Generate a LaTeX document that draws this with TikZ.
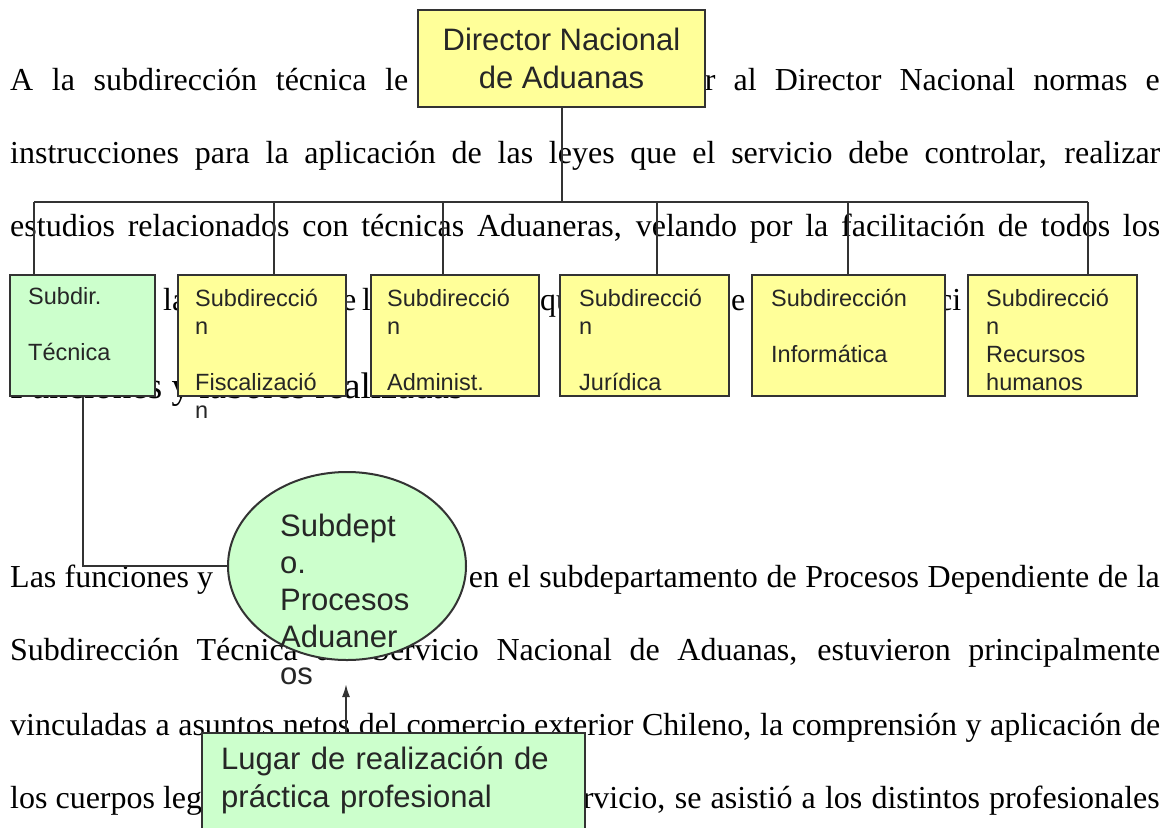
\documentclass[tikz,border=0pt]{standalone}
\usepackage{fontspec}
\setmainfont{Liberation Serif}
\newfontfamily\arialf{Liberation Sans}
\usepackage{tikz}
\usetikzlibrary{arrows.meta,positioning,shapes.geometric}

\definecolor{boxyellow}{HTML}{FFFF99}
\definecolor{boxgreen}{HTML}{CCFFCC}
\definecolor{edgegray}{HTML}{333333}

\begin{document}
\begin{tikzpicture}[x=1pt, y=-1pt,
  body/.style={anchor=base west, inner sep=0pt, font=\fontsize{32}{38}\selectfont},
  orgbox/.style={draw=edgegray, line width=2pt, fill=boxyellow, inner sep=0pt},
  boxtxt/.style={anchor=base west, inner sep=0pt, text width=200pt, align=left, text=black!85, font=\arialf\fontsize{23.5}{28}\selectfont},
  bigtxt/.style={anchor=base west, inner sep=0pt, text width=380pt, align=left, text=black!85, font=\arialf\fontsize{31}{37}\selectfont},
  conn/.style={draw=edgegray, line width=2pt}]

\useasboundingbox (0,0) rectangle (1174,827);
\fill[white] (0,0) rectangle (1174,827);
\clip (0,0) rectangle (1174,827);

% page text behind the chart
\node[body] (l1a) at (10,90) {\makebox[398pt][s]{A la subdirección técnica le}};
\node[body, anchor=base east] (l1b) at (1160,90) {\makebox[455pt][s]{r al Director Nacional normas e}};
\node[body] (l2) at (10,163) {\makebox[1150pt][s]{instrucciones para la aplicación de las leyes que el servicio debe controlar, realizar}};
\node[body] (l3) at (10,236) {\makebox[1150pt][s]{estudios relacionados con técnicas Aduaneras, velando por la facilitación de todos los}};
\foreach \t/\x in {la/163, e/342, l/362, qu/540, e/731, ci/938}
  \node[body] at (\x,310) {\t};
\node[body, font=\fontsize{37}{44}\selectfont] (head) at (10,398) {Funciones y labores realizadas};
\node[body] (l6a) at (10,587) {\makebox[203pt][s]{Las funciones y}};
\node[body, anchor=base east] (l6b) at (1160,587) {\makebox[691pt][s]{en el subdepartamento de Procesos Dependiente de la}};
\node[body] (l7) at (10,660) {\makebox[1150pt][s]{Subdirección Técnica del Servicio Nacional de Aduanas, estuvieron principalmente}};
\node[body] (l8) at (10,735) {\makebox[1150pt][s]{vinculadas a asuntos netos del comercio exterior Chileno, la comprensión y aplicación de}};
\node[body] (l9a) at (10,808) {\makebox[192pt][s]{los cuerpos leg}};
\node[body, anchor=base east] (l9b) at (1160,808) {\makebox[577pt][s]{rvicio, se asistió a los distintos profesionales}};

% chart boxes
\node[orgbox, minimum width=287pt, minimum height=97pt, align=center, text=black!85,
      font=\arialf\fontsize{31}{38}\selectfont] (dir) at (561.5,58.5) {Director Nacional\\de Aduanas};
\node[orgbox, fill=boxgreen, minimum width=145pt, minimum height=121pt] (tec) at (82.5,335.5) {};
\node[orgbox, minimum width=168pt, minimum height=121pt] (fis) at (262,335.5) {};
\node[orgbox, minimum width=168pt, minimum height=121pt] (adm) at (455,335.5) {};
\node[orgbox, minimum width=169pt, minimum height=121pt] (jur) at (644.5,335.5) {};
\node[orgbox, minimum width=193pt, minimum height=121pt] (inf) at (848.5,335.5) {};
\node[orgbox, minimum width=169pt, minimum height=121pt] (rrhh) at (1052.5,335.5) {};
\node[orgbox, fill=boxgreen, ellipse, minimum width=238pt, minimum height=188pt] (sub) at (347,566) {};
\node[orgbox, fill=boxgreen, minimum width=383pt, minimum height=150pt] (lugar) at (393.5,808) {};

% connectors
\coordinate (busL) at (34,202);
\coordinate (busR) at (1088,202);
\coordinate (tip) at (346,684);
\draw[conn] (dir.south) -- (dir.south |- busL);
\draw[conn] (busL) -- (busR);
\foreach \n/\x in {tec/34, fis/274, adm/443, jur/657, inf/848, rrhh/1088}
  \draw[conn] (\x,202) -- (\n.north -| \x,0);
\draw[conn] (tec.south) |- (sub.west);
\draw[conn, -{Latex[length=13pt,width=8pt]}] (lugar.north -| tip) -- (tip);

% box labels
\node[boxtxt] at ([shift={(19,30)}]tec.north west) {Subdir.\\[28pt]Técnica};
\node[boxtxt] at ([shift={(18,32)}]fis.north west) {Subdirecció\\n\\[28pt]Fiscalizació\\n};
\node[boxtxt] at ([shift={(17,32)}]adm.north west) {Subdirecció\\n\\[28pt]Administ.};
\node[boxtxt] at ([shift={(20,32)}]jur.north west) {Subdirecció\\n\\[28pt]Jurídica};
\node[boxtxt] at ([shift={(20,32)}]inf.north west) {Subdirección\\[28pt]Informática};
\node[boxtxt] at ([shift={(19,32)}]rrhh.north west) {Subdirecció\\n\\Recursos\\humanos};
\node[bigtxt] at (280,536) {Subdept\\o.\\Procesos\\Aduaner\\os};
\node[bigtxt, font=\arialf\fontsize{31}{38}\selectfont] at ([shift={(20,37)}]lugar.north west) {Lugar de realización de\\práctica profesional};

\end{tikzpicture}
\end{document}
